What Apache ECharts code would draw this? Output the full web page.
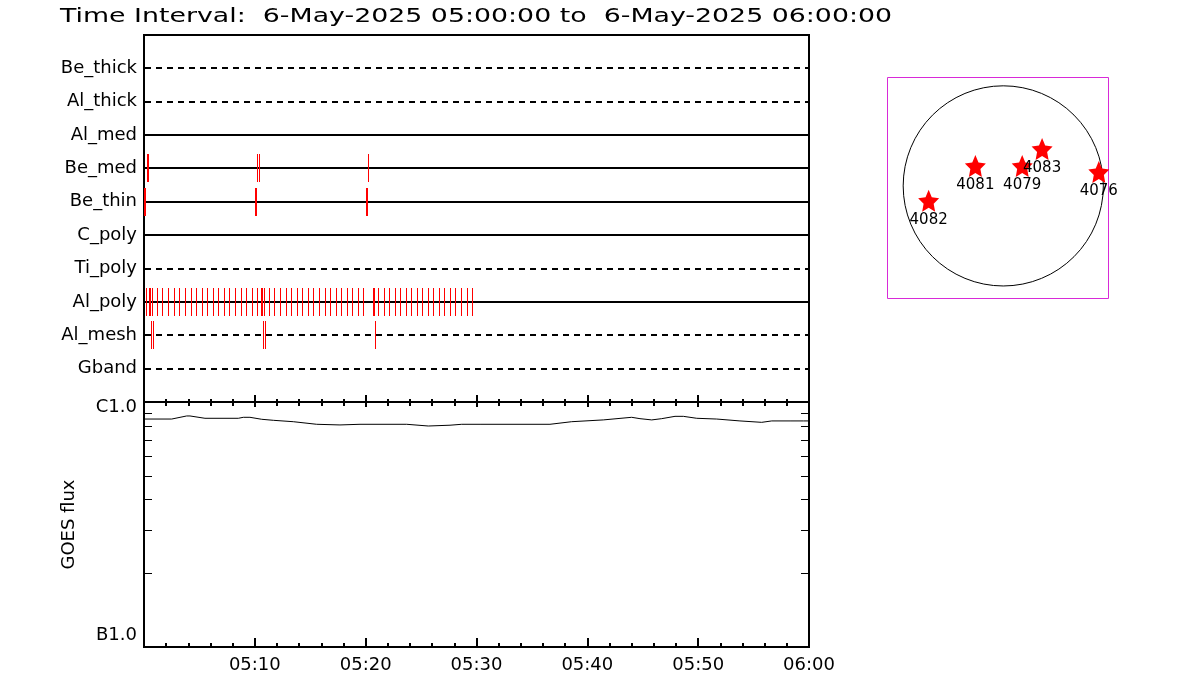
<!DOCTYPE html>
<html>
<head>
<meta charset="utf-8">
<script src="https://cdn.jsdelivr.net/npm/echarts@6/dist/echarts.min.js"></script>
<style>html,body{margin:0;padding:0;background:#fff}#c{width:1200px;height:700px}</style>
</head>
<body>
<div id="c"></div>
<script>
// ---------------- DATA ----------------
const titleText = 'Time Interval:  6-May-2025 05:00:00 to  6-May-2025 06:00:00';
// filter rows, top to bottom
const rowNames = ['Be_thick', 'Al_thick', 'Al_med', 'Be_med', 'Be_thin', 'C_poly', 'Ti_poly', 'Al_poly', 'Al_mesh', 'Gband'];
// time tick labels at 0,10,...,60 minutes after 05:00
const timeLabels = ['', '05:10', '05:20', '05:30', '05:40', '05:50', '06:00'];
// events: [start, end] minutes after 05:00
const beMedEvents = [[0.24, 0.42], [10.22, 10.28], [10.35, 10.41], [20.19, 20.28]];
const beThinEvents = [[0.00, 0.18], [9.98, 10.16], [20.02, 20.20]];
// single-instant events (minutes after 05:00)
const alPolyTimes = [0.18, 0.45, 0.57, 0.72, 1.14, 1.65, 2.19, 2.71, 3.18, 3.70, 4.21, 4.69, 5.21, 5.71,
  6.20, 6.70, 7.22, 7.70, 8.21, 8.72, 9.20, 9.72, 10.22, 10.56, 10.67, 10.83, 11.28, 11.76, 12.27, 12.78,
  13.29, 13.78, 14.28, 14.80, 15.29, 15.81, 16.30, 16.81, 17.32, 17.80, 18.32, 18.79, 19.31, 19.79,
  20.69, 20.75, 21.14, 21.63, 22.11, 22.62, 23.10, 23.61, 24.09, 24.61, 25.11, 25.60, 26.10, 26.59,
  27.10, 27.61, 28.09, 28.60, 29.12, 29.59];
const alMeshTimes = [0.66, 0.81, 10.76, 10.91, 20.86];
// GOES flux (W/m^2) vs minutes after 05:00
const goesTimes = [0, 2.50, 3.85, 4.15, 5.50, 8.51, 8.96, 9.56, 10.62, 11.67, 13.47, 15.58, 17.68, 19.49,
  23.70, 25.65, 27.61, 28.67, 30.32, 36.63, 38.59, 41.44, 44.00, 44.75, 45.81, 46.71, 47.91, 48.66,
  49.87, 51.67, 53.77, 55.73, 56.64, 58.29, 59.49, 60];
const goesFlux = [8.52e-7, 8.52e-7, 8.77e-7, 8.77e-7, 8.58e-7, 8.58e-7, 8.66e-7, 8.66e-7, 8.50e-7, 8.42e-7,
  8.31e-7, 8.11e-7, 8.06e-7, 8.11e-7, 8.11e-7, 7.98e-7, 8.04e-7, 8.11e-7, 8.11e-7, 8.11e-7, 8.31e-7,
  8.45e-7, 8.66e-7, 8.55e-7, 8.45e-7, 8.55e-7, 8.74e-7, 8.74e-7, 8.58e-7, 8.52e-7, 8.37e-7, 8.26e-7,
  8.37e-7, 8.37e-7, 8.37e-7, 8.37e-7];
const goesMinorTicks = [2e-7, 3e-7, 4e-7, 5e-7, 6e-7, 7e-7, 8e-7, 9e-7];
// active regions: solar x, y (arcsec)
const arNames = ['4082', '4081', '4079', '4083', '4076'];
const arX = [-709, -265, 180, 369, 908];
const arY = [-142, 189, 189, 350, 132];
const solarRadius = 951;

// ---------------- STYLE ----------------
const FONT = 'DejaVu Sans';
const WEIGHT = 'normal';
const dashedRows = { Be_thick: true, Al_thick: true, Ti_poly: true, Al_mesh: true, Gband: true };
const RED = '#ff0000';
const starPath = 'path://M50,0 L64.1,30.6 L97.6,34.5 L72.8,57.4 L79.4,90.5 L50,74 L20.6,90.5 L27.2,57.4 L2.4,34.5 L35.9,30.6 Z';

const rowIndex = name => rowNames.length - rowNames.indexOf(name);

const rowData = rowNames.map(n => [0, rowIndex(n)]);
const eventData = [];
beMedEvents.forEach(e => eventData.push([e[0], rowIndex('Be_med'), e[1]]));
beThinEvents.forEach(e => eventData.push([e[0], rowIndex('Be_thin'), e[1]]));
alPolyTimes.forEach(t => eventData.push([t, rowIndex('Al_poly'), t]));
alMeshTimes.forEach(t => eventData.push([t, rowIndex('Al_mesh'), t]));

const chart = echarts.init(document.getElementById('c'), null, { renderer: 'canvas' });

const tickLine = { lineStyle: { color: '#000', width: 2 } };
const txt = { color: '#000', fontFamily: FONT, fontSize: 18, fontWeight: WEIGHT };

chart.setOption({
  animation: false,
  backgroundColor: '#fff',
  textStyle: { fontFamily: FONT },
  graphic: [{
    type: 'text', x: 60, y: 7, scaleX: 1.34,
    style: { text: titleText, fill: '#000', fontFamily: FONT, fontSize: 20, fontWeight: WEIGHT, verticalAlign: 'top' }
  }],
  grid: [
    { left: 144, top: 35, width: 665, height: 367, show: true, borderColor: '#000', borderWidth: 2, backgroundColor: 'transparent' },
    { left: 144, top: 402, width: 665, height: 245, show: true, borderColor: '#000', borderWidth: 2, backgroundColor: 'transparent' },
    { left: 887.5, top: 77.5, width: 221, height: 221, show: true, borderColor: '#d82ad8', borderWidth: 1, backgroundColor: 'transparent' }
  ],
  xAxis: [
    { gridIndex: 0, type: 'value', min: 0, max: 60, interval: 10, position: 'bottom',
      axisLine: { show: true, onZero: false, lineStyle: { color: '#000', width: 2 } },
      axisTick: { show: true, inside: true, length: 7, ...tickLine },
      minorTick: { show: true, splitNumber: 5, length: 3, ...tickLine },
      axisLabel: { show: false }, splitLine: { show: false }, minorSplitLine: { show: false } },
    { gridIndex: 1, type: 'value', min: 0, max: 60, interval: 10, position: 'top',
      axisLine: { show: true, onZero: false, lineStyle: { color: '#000', width: 2 } },
      axisTick: { show: true, inside: true, length: 5, ...tickLine },
      minorTick: { show: true, splitNumber: 5, length: 4, ...tickLine },
      axisLabel: { show: false }, splitLine: { show: false } },
    { gridIndex: 1, type: 'value', min: 0, max: 60, interval: 10, position: 'bottom',
      axisLine: { show: true, onZero: false, lineStyle: { color: '#000', width: 2 } },
      axisTick: { show: true, inside: true, length: 9, ...tickLine },
      minorTick: { show: true, splitNumber: 5, length: 4, ...tickLine },
      axisLabel: { show: true, margin: 9, ...txt,
        formatter: v => timeLabels[Math.round(v / 10)] || '' },
      splitLine: { show: false } },
    { gridIndex: 2, type: 'value', min: -1100, max: 1000, show: false }
  ],
  yAxis: [
    { gridIndex: 0, type: 'value', min: 0, max: 11, interval: 1,
      axisLine: { show: true, lineStyle: { color: '#000', width: 2 } },
      axisTick: { show: false }, splitLine: { show: false },
      axisLabel: { margin: 7, ...txt,
        formatter: v => (v >= 1 && v <= rowNames.length) ? rowNames[rowNames.length - v] : '' } },
    { gridIndex: 1, type: 'log', logBase: 10, min: 1e-7, max: 1e-6,
      axisLine: { show: true, lineStyle: { color: '#000', width: 2 } },
      axisTick: { show: false }, splitLine: { show: false },
      name: 'GOES flux', nameLocation: 'middle', nameRotate: 90, nameGap: 66,
      nameTextStyle: { ...txt },
      axisLabel: { margin: 7, ...txt,
        formatter: v => v > 5e-7 ? '{c|C1.0}' : '{b|B1.0}',
        rich: {
          c: { ...txt, padding: [10, 0, 0, 0] },
          b: { ...txt, padding: [0, 0, 24, 0] }
        } } },
    { gridIndex: 2, type: 'value', min: -1070, max: 1030, show: false }
  ],
  series: [
    // filter row baselines
    { type: 'custom', xAxisIndex: 0, yAxisIndex: 0, data: rowData, encode: { x: 0, y: 1 }, silent: true, clip: false,
      renderItem: (params, api) => {
        const k = api.value(1);
        const p0 = api.coord([0, k]);
        const p1 = api.coord([60, k]);
        const y = Math.round(p0[1]);
        const name = rowNames[rowNames.length - k];
        return { type: 'line', shape: { x1: p0[0] + 1, y1: y, x2: p1[0], y2: y },
          style: { fill: null, stroke: '#000', lineWidth: 2, lineDash: dashedRows[name] ? [6, 5] : null } };
      } },
    // attenuator / filter events
    { type: 'custom', xAxisIndex: 0, yAxisIndex: 0, data: eventData, encode: { x: [0, 2], y: 1 }, silent: true, clip: false,
      renderItem: (params, api) => {
        const s = api.value(0), k = api.value(1), e = api.value(2);
        const top = api.coord([s, k + 0.42]);
        const bot = api.coord([s, k - 0.42]);
        const pe = api.coord([e, k]);
        const x = Math.round(top[0]);
        const w = Math.max(1, Math.round(pe[0] - top[0]));
        return { type: 'rect', shape: { x: x, y: Math.round(top[1]), width: w, height: Math.round(bot[1] - top[1]) },
          style: { fill: RED, stroke: null, lineWidth: 0 } };
      } },
    // GOES curve
    { type: 'line', xAxisIndex: 2, yAxisIndex: 1, data: goesTimes.map((t, i) => [t, goesFlux[i]]),
      showSymbol: false, symbol: 'none', lineStyle: { color: '#000', width: 1 }, silent: true },
    // log minor ticks (both sides)
    { type: 'custom', xAxisIndex: 2, yAxisIndex: 1, data: goesMinorTicks.map(v => [0, v]), encode: { x: 0, y: 1 }, silent: true, clip: false,
      renderItem: (params, api) => {
        const v = api.value(1);
        const pl = api.coord([0, v]);
        const pr = api.coord([60, v]);
        const y = Math.round(pl[1]) + 0.5;
        return { type: 'group', children: [
          { type: 'line', shape: { x1: pl[0], y1: y, x2: pl[0] + 8, y2: y }, style: { fill: null, stroke: '#000', lineWidth: 1 } },
          { type: 'line', shape: { x1: pr[0] - 8, y1: y, x2: pr[0], y2: y }, style: { fill: null, stroke: '#000', lineWidth: 1 } }
        ] };
      } },
    // solar disk
    { type: 'custom', xAxisIndex: 3, yAxisIndex: 2, data: [[0, 0]], encode: { x: 0, y: 1 }, silent: true, clip: false,
      renderItem: (params, api) => {
        const c = api.coord([0, 0]);
        const r = api.size([solarRadius, 0])[0];
        return { type: 'circle', shape: { cx: c[0], cy: c[1], r: r }, style: { fill: 'none', stroke: '#000', lineWidth: 1 } };
      } },
    // active regions
    { type: 'scatter', xAxisIndex: 3, yAxisIndex: 2, symbol: starPath, symbolSize: [21, 22],
      itemStyle: { color: RED, opacity: 1 }, silent: true,
      data: arNames.map((n, i) => ({ name: n, value: [arX[i], arY[i]] })),
      label: { show: true, position: 'bottom', distance: 1, formatter: p => p.name,
        color: '#000', fontFamily: FONT, fontSize: 15, fontWeight: WEIGHT },
      z: 5 }
  ]
});
</script>
</body>
</html>
